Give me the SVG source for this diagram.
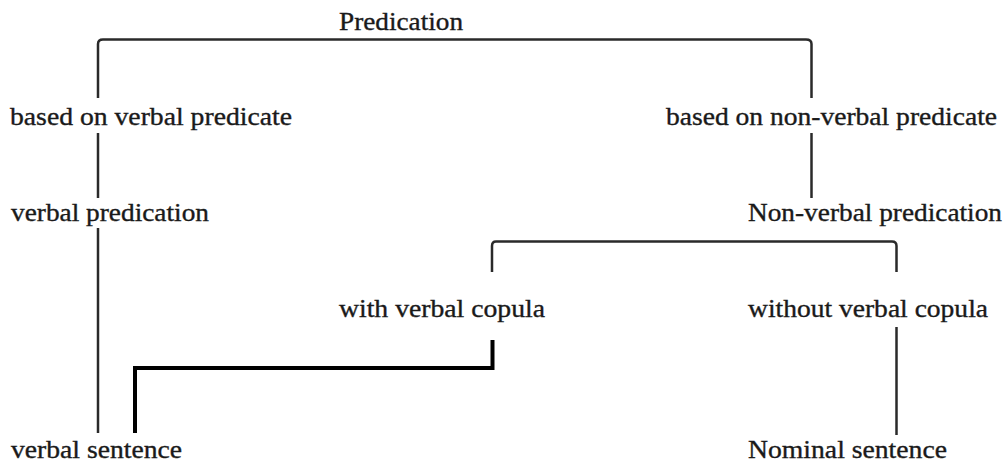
<svg xmlns="http://www.w3.org/2000/svg" width="1003" height="466" viewBox="0 0 1003 466">
<style>
.t{font-size:25px;fill:#1a1a1a;stroke:#1a1a1a;stroke-width:0.35}
.c{fill:none;stroke:#2a2a2a;stroke-width:2.5;stroke-linejoin:round}
.k{fill:none;stroke:#000;stroke-width:4;stroke-linejoin:miter}
</style>
<rect width="1003" height="466" fill="#fff"/>
<g id="connectors">
<path class="c" d="M98,98 V44 Q98,39.5 103,39.5 H806 Q811.5,39.5 811.5,44 V98"/>
<path class="c" d="M98,133 V198"/>
<path class="c" d="M98,228 V433"/>
<path class="c" d="M811.5,133 V198"/>
<path class="c" d="M492,272 V246 Q492,241.5 496,241.5 H892 Q896.5,241.5 896.5,246 V272"/>
<path class="c" d="M896.5,327 V435"/>
<path class="k" d="M492.5,340 V368 H135 V433"/>
</g>
<g font-family="Liberation Serif, Times New Roman, serif" class="t">
<g id="n-predication"><text x="339" y="30" textLength="124" lengthAdjust="spacingAndGlyphs">Predication</text></g>
<g id="n-based-verbal"><text x="10" y="125" textLength="282" lengthAdjust="spacingAndGlyphs">based on verbal predicate</text></g>
<g id="n-based-nonverbal"><text x="666" y="125" textLength="331" lengthAdjust="spacingAndGlyphs">based on non-verbal predicate</text></g>
<g id="n-verbal-predication"><text x="11" y="221" textLength="198" lengthAdjust="spacingAndGlyphs">verbal predication</text></g>
<g id="n-nonverbal-predication"><text x="748" y="221" textLength="254" lengthAdjust="spacingAndGlyphs">Non-verbal predication</text></g>
<g id="n-with-copula"><text x="339" y="317" textLength="206" lengthAdjust="spacingAndGlyphs">with verbal copula</text></g>
<g id="n-without-copula"><text x="748" y="317" textLength="240" lengthAdjust="spacingAndGlyphs">without verbal copula</text></g>
<g id="n-verbal-sentence"><text x="11" y="458" textLength="171" lengthAdjust="spacingAndGlyphs">verbal sentence</text></g>
<g id="n-nominal-sentence"><text x="748" y="458" textLength="199" lengthAdjust="spacingAndGlyphs">Nominal sentence</text></g>
</g>
</svg>
